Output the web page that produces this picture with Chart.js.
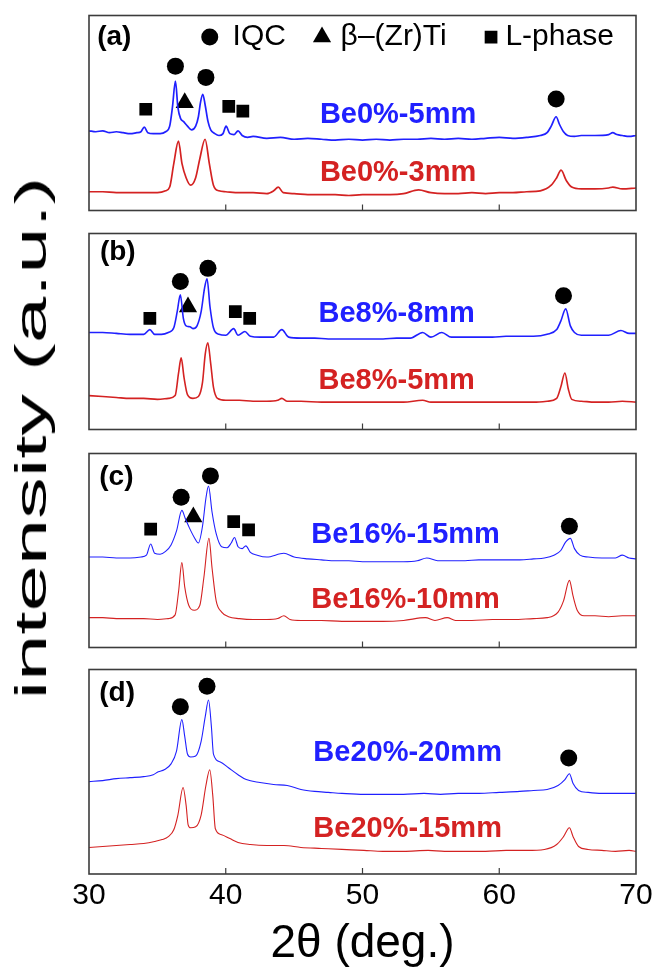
<!DOCTYPE html>
<html>
<head>
<meta charset="utf-8">
<script src="https://cdn.jsdelivr.net/npm/chart.js@4.4.1/dist/chart.umd.min.js"></script>
<style>
  body { margin: 0; background: #fff; }
  #figure { position: relative; width: 657px; height: 968px; overflow: hidden; }
  #figure canvas { position: absolute; left: 0; }
  #ylabel {
    position: absolute; left: 31px; top: 438px;
    font-family: "Liberation Sans", Arial, sans-serif; font-size: 45px; color: #000;
    white-space: nowrap;
    transform: translate(-50%, -50%) rotate(-90deg) scaleX(1.85);
  }
</style>
</head>
<body>
<div id="figure">
  <canvas id="panelA" width="657" height="216" style="top:5px"></canvas>
  <canvas id="panelB" width="657" height="217" style="top:223px"></canvas>
  <canvas id="panelC" width="657" height="215" style="top:443px"></canvas>
  <canvas id="panelD" width="657" height="307" style="top:661px"></canvas>
  <div id="ylabel">intensity (a.u.)</div>
</div>
<script>
// 2-theta range and tick values
const X_MIN = 30;
const X_MAX = 70;
const X_TICKS = [30, 40, 50, 60, 70];
const INNER_TICKS = [40, 50, 60];

// (a) Be0%
const aBlue = [
  [30, 85], [30.5, 84], [31, 85], [31.5, 83], [32, 84], [32.5, 83], [33, 82], [33.5, 83], [33.8, 84],
  [34.04, 89], [34.3, 83], [34.7, 82], [35.2, 82], [35.6, 84], [35.9, 90], [36.1, 110], [36.32, 138],
  [36.5, 110], [36.7, 98], [36.9, 95], [37.2, 90], [37.5, 86], [37.8, 90], [38.0, 100], [38.15, 115],
  [38.32, 124], [38.5, 112], [38.7, 95], [38.9, 86], [39.2, 82], [39.5, 80], [39.8, 82], [40.02, 90],
  [40.3, 82], [40.6, 81], [40.9, 85], [41.2, 80], [41.6, 78], [42, 79], [43, 77], [44, 78], [45, 76],
  [46, 77], [47, 76], [48, 75], [49, 76], [50, 75], [51, 76], [52, 75], [53, 76], [54, 76], [55, 77],
  [56, 76], [57, 77], [58, 76], [59, 77], [60, 78], [61, 77], [62, 78], [63, 80], [63.5, 83], [63.8, 90],
  [64.16, 100], [64.4, 92], [64.7, 84], [65, 80], [65.5, 79], [66, 80], [67, 80], [68, 81], [68.3, 83],
  [68.6, 81], [69, 80], [69.5, 79], [70, 80],
];
const aRed = [
  [30, 20], [31, 20], [32, 19], [33, 19], [34, 19], [35, 19], [35.6, 21], [35.9, 25], [36.2, 50],
  [36.54, 74], [36.8, 50], [37.1, 35], [37.43, 27], [37.8, 35], [38.1, 55], [38.49, 76], [38.8, 50],
  [39.1, 27], [39.5, 21], [40, 20], [41, 19], [42, 19], [43, 18], [43.5, 21], [43.84, 25], [44.2, 19],
  [45, 18], [46, 17], [47, 17], [48, 17], [49, 16], [50, 17], [51, 17], [52, 17], [53, 18], [54.1, 22],
  [55, 19], [56, 18], [57, 18], [58, 19], [59, 18], [60, 19], [61, 19], [62, 20], [63, 21], [63.8, 27],
  [64.2, 35], [64.52, 43], [64.9, 32], [65.3, 25], [66, 23], [67, 23], [68, 24], [68.3, 25], [69, 23],
  [70, 24],
];
const aCircles = [[36.32, 154], [38.55, 142], [64.16, 119], [38.83, 185]];
const aTriangles = [[37.0, 115], [47.04, 185]];
const aSquares = [[34.15, 108], [40.22, 111], [41.25, 106], [59.4, 185]];

// (b) Be8%
const bBlue = [
  [30, 103], [31, 103], [32, 102], [33, 101], [34, 101], [34.45, 106], [34.8, 101], [35.3, 101],
  [35.8, 103], [36.2, 108], [36.45, 125], [36.68, 143], [36.9, 118], [37.1, 110], [37.38, 109],
  [37.6, 107], [37.9, 110], [38.2, 125], [38.45, 150], [38.63, 160], [38.85, 130], [39.1, 108],
  [39.5, 101], [40, 100], [40.58, 107], [40.9, 100], [41.4, 104], [41.8, 99], [42.5, 98], [43.5, 98],
  [44.1, 106], [44.6, 98], [45.5, 97], [46.5, 97], [47.5, 96], [48.5, 96], [49.5, 96], [50.5, 96],
  [51.5, 96], [52.5, 97], [53.5, 97], [54.4, 103], [55, 98], [55.8, 103], [56.5, 98], [57.5, 98],
  [58.5, 98], [59.5, 98], [60.5, 99], [61.5, 99], [62.5, 99], [63.5, 101], [64.2, 106], [64.5, 115],
  [64.86, 128], [65.2, 110], [65.5, 103], [66, 100], [67, 100], [68, 100], [68.9, 105], [69.5, 102],
  [70, 102],
];
const bRed = [
  [30, 36], [31, 35], [32, 34], [33, 33], [34, 33], [35, 32], [35.8, 33], [36.3, 36], [36.55, 60],
  [36.74, 76], [36.95, 55], [37.2, 37], [37.6, 33], [38.0, 35], [38.3, 50], [38.5, 80], [38.69, 92],
  [38.9, 70], [39.1, 45], [39.4, 33], [40, 31], [41, 31], [42, 30], [43, 30], [43.8, 31], [44.1, 33],
  [44.5, 30], [45.5, 30], [47, 29], [48.5, 29], [50, 29], [51.5, 29], [53, 29], [54.4, 31], [55, 29],
  [56.5, 29], [58, 29], [59.5, 29], [61, 29], [62.5, 29], [63.5, 30], [64.2, 33], [64.5, 45],
  [64.8, 60], [65.05, 43], [65.3, 32], [66, 30], [67, 29], [68, 29], [69, 30], [70, 29],
];
const bCircles = [[36.68, 157], [38.7, 171], [64.7, 142]];
const bTriangles = [[37.24, 130]];
const bSquares = [[34.45, 118], [40.7, 125], [41.75, 118]];

// (c) Be16%
const cBlue = [
  [30, 97], [31, 97], [32, 96], [33, 96], [33.8, 97], [34.2, 99], [34.51, 111], [34.8, 101], [35.2, 100],
  [35.6, 103], [36.0, 110], [36.4, 125], [36.79, 147], [37.05, 138], [37.35, 128], [37.7, 118],
  [38.0, 112], [38.3, 130], [38.55, 160], [38.74, 173], [39.0, 145], [39.3, 122], [39.7, 108],
  [40.1, 107], [40.4, 112], [40.64, 118], [40.9, 108], [41.2, 106], [41.47, 109], [41.8, 102],
  [42.3, 99], [43, 97], [44.25, 101], [45, 97], [46, 95], [47, 94], [48, 93], [49, 93], [50, 92],
  [51, 92], [52, 92], [53, 92], [54, 93], [54.7, 96], [55.5, 93], [56.5, 93], [57.5, 93], [58.5, 94],
  [59.5, 94], [60.5, 94], [61.5, 94], [62.5, 95], [63.3, 96], [64, 99], [64.5, 104], [64.85, 113],
  [65.2, 117], [65.5, 106], [65.9, 99], [66.5, 97], [67.5, 96], [68.5, 96], [69.0, 99], [69.5, 96],
  [70, 95],
];
const cRed = [
  [30, 32], [31, 32], [32, 31], [33, 31], [34, 31], [35, 30], [35.8, 31], [36.3, 35], [36.55, 60],
  [36.79, 91], [37.0, 65], [37.3, 45], [37.7, 40], [38.1, 45], [38.4, 75], [38.77, 117], [39.0, 85],
  [39.3, 50], [39.7, 38], [40.2, 33], [41, 31], [42, 30], [43, 30], [43.8, 31], [44.25, 34], [44.7, 30],
  [45.5, 29], [47, 29], [48.5, 28], [50, 28], [51.5, 28], [53, 29], [54.6, 32], [55.3, 29], [56.2, 32],
  [56.8, 29], [58, 29], [59.5, 30], [61, 30], [62.5, 31], [63.5, 32], [64.3, 38], [64.7, 50],
  [65.13, 72], [65.4, 55], [65.7, 40], [66.2, 34], [67, 34], [68, 33], [69, 34], [70, 34],
];
const cCircles = [[36.74, 161], [38.88, 184], [65.13, 130]];
const cTriangles = [[37.63, 140]];
const cSquares = [[34.51, 127], [40.58, 135], [41.67, 126]];

// (d) Be20%
const dBlue = [
  [30, 94], [31, 95], [32, 97], [33, 98], [34, 99], [34.7, 101], [35.07, 104], [35.5, 106], [36.0, 112],
  [36.4, 125], [36.79, 157], [37.0, 140], [37.2, 122], [37.43, 119], [37.8, 120], [38.2, 135],
  [38.5, 160], [38.74, 177], [38.95, 150], [39.1, 122], [39.6, 114], [40.2, 108], [40.9, 101],
  [41.5, 96], [42.5, 93], [43.5, 91], [44.5, 90], [45.5, 86], [46.5, 84], [47.5, 83], [48.5, 82],
  [50.1, 81], [51.5, 81], [53, 81], [54.5, 82], [55.7, 81], [57, 82], [58.5, 82], [60, 83], [61.5, 84],
  [62.5, 85], [63.5, 86], [64.3, 90], [64.8, 96], [65.13, 102], [65.4, 92], [65.8, 85], [66.5, 83],
  [67.5, 82], [68.5, 82], [69.5, 82], [70, 82],
];
const dRed = [
  [30, 27], [31, 28], [32, 29], [33, 30], [34, 31], [34.8, 33], [35.35, 35], [35.8, 38], [36.2, 45],
  [36.5, 60], [36.88, 88], [37.1, 70], [37.25, 50], [37.43, 47], [37.8, 48], [38.2, 60], [38.55, 90],
  [38.83, 106], [39.05, 80], [39.24, 46], [39.7, 40], [40.3, 36], [40.9, 32], [41.8, 30], [43, 29],
  [44.25, 29], [45.5, 27], [47, 26], [48.5, 25], [50.1, 24], [51.5, 23], [53, 23], [54.8, 24], [56, 23],
  [57.5, 23], [59, 23], [60.5, 24], [62, 24], [63.3, 25], [64.2, 30], [64.7, 38], [65.13, 47],
  [65.4, 38], [65.8, 28], [66.5, 25], [67.5, 24], [68.5, 23], [69.5, 24], [70, 23],
];
const dCircles = [[36.68, 170], [38.63, 191], [65.08, 118]];

const FONT = '"Liberation Sans", Arial, sans-serif';
const BLUE = "#2020ff";
const RED = "#d42222";

const toXY = (pairs) => pairs.map(([x, y]) => ({ x, y }));

const frameAndTicks = {
  id: "frameAndTicks",
  afterDatasetsDraw(chart) {
    const { ctx, chartArea: a, scales } = chart;
    ctx.save();
    ctx.strokeStyle = "#3c3c3c";
    ctx.lineWidth = 1.6;
    ctx.strokeRect(a.left, a.top, a.right - a.left, a.bottom - a.top);
    ctx.lineWidth = 1.2;
    INNER_TICKS.forEach((v) => {
      const px = scales.x.getPixelForValue(v);
      ctx.beginPath();
      ctx.moveTo(px, a.bottom);
      ctx.lineTo(px, a.bottom - 6);
      ctx.stroke();
    });
    ctx.restore();
  },
};

const panelText = {
  id: "panelText",
  afterDraw(chart, args, opts) {
    const { ctx, scales } = chart;
    ctx.save();
    ctx.textBaseline = "middle";
    (opts.items || []).forEach((t) => {
      ctx.font = t.font;
      ctx.fillStyle = t.color || "#000";
      ctx.textAlign = t.align || "left";
      ctx.fillText(t.text, scales.x.getPixelForValue(t.x), scales.y.getPixelForValue(t.y));
    });
    ctx.restore();
  },
};

function markerSet(points, style, radius) {
  return {
    data: toXY(points),
    showLine: false,
    pointStyle: style,
    pointRadius: radius,
    pointHoverRadius: radius,
    pointBackgroundColor: "#000",
    pointBorderWidth: 0,
  };
}

function traceSet(points, color, width) {
  return {
    data: toXY(points),
    showLine: true,
    borderColor: color,
    borderWidth: width,
    pointRadius: 0,
    cubicInterpolationMode: "monotone",
  };
}

function makePanel(id, cfg) {
  const datasets = [
    traceSet(cfg.red, RED, cfg.lineWidth),
    traceSet(cfg.blue, BLUE, cfg.lineWidth),
    markerSet(cfg.circles, "circle", 8.5),
  ];
  if (cfg.triangles) datasets.push(markerSet(cfg.triangles, "triangle", 10.5));
  if (cfg.squares) datasets.push(markerSet(cfg.squares, "rect", 9));

  const xAxis = {
    type: "linear",
    min: X_MIN,
    max: X_MAX,
    display: !!cfg.bottom,
    border: { display: false },
    grid: { display: false, drawTicks: false },
    afterBuildTicks: (scale) => {
      scale.ticks = X_TICKS.map((v) => ({ value: v }));
    },
    ticks: {
      color: "#000",
      font: { family: FONT, size: 30 },
      padding: 4,
      maxRotation: 0,
      autoSkip: false,
    },
    title: {
      display: true,
      text: "2θ (deg.)",
      color: "#000",
      font: { family: FONT, size: 46 },
      padding: { top: 0, bottom: -4 },
    },
  };
  if (cfg.bottom) {
    xAxis.afterFit = (scale) => {
      scale.height = 94;
    };
  }

  return new Chart(document.getElementById(id), {
    type: "scatter",
    data: { datasets },
    options: {
      responsive: false,
      animation: false,
      events: [],
      layout: { padding: { left: 89, right: 21, top: 4, bottom: cfg.bottom ? 0 : 4 } },
      plugins: {
        legend: { display: false },
        tooltip: { enabled: false },
        panelText: { items: cfg.texts },
      },
      scales: {
        x: xAxis,
        y: { type: "linear", min: 0, max: 208, display: false },
      },
    },
    plugins: [frameAndTicks, panelText],
  });
}

const tagFont = "bold 28px " + FONT;
const sampleFont = "bold 29px " + FONT;
const legendFont = "30px " + FONT;

makePanel("panelA", {
  blue: aBlue, red: aRed, circles: aCircles, triangles: aTriangles, squares: aSquares,
  lineWidth: 1.7,
  texts: [
    { text: "(a)", x: 30.6, y: 185, font: tagFont },
    { text: "IQC", x: 40.5, y: 185, font: legendFont },
    { text: "β–(Zr)Ti", x: 48.4, y: 185, font: legendFont },
    { text: "L-phase", x: 60.45, y: 185, font: legendFont },
    { text: "Be0%-5mm", x: 52.6, y: 102, font: sampleFont, color: BLUE, align: "center" },
    { text: "Be0%-3mm", x: 52.6, y: 40, font: sampleFont, color: RED, align: "center" },
  ],
});

makePanel("panelB", {
  blue: bBlue, red: bRed, circles: bCircles, triangles: bTriangles, squares: bSquares,
  lineWidth: 1.6,
  texts: [
    { text: "(b)", x: 30.8, y: 188, font: tagFont },
    { text: "Be8%-8mm", x: 52.5, y: 123, font: sampleFont, color: BLUE, align: "center" },
    { text: "Be8%-5mm", x: 52.5, y: 52, font: sampleFont, color: RED, align: "center" },
  ],
});

makePanel("panelC", {
  blue: cBlue, red: cRed, circles: cCircles, triangles: cTriangles, squares: cSquares,
  lineWidth: 1.1,
  texts: [
    { text: "(c)", x: 30.75, y: 182, font: tagFont },
    { text: "Be16%-15mm", x: 53.15, y: 121, font: sampleFont, color: BLUE, align: "center" },
    { text: "Be16%-10mm", x: 53.15, y: 51, font: sampleFont, color: RED, align: "center" },
  ],
});

makePanel("panelD", {
  blue: dBlue, red: dRed, circles: dCircles,
  lineWidth: 1.1,
  bottom: true,
  texts: [
    { text: "(d)", x: 30.75, y: 184, font: tagFont },
    { text: "Be20%-20mm", x: 53.3, y: 123, font: sampleFont, color: BLUE, align: "center" },
    { text: "Be20%-15mm", x: 53.3, y: 46, font: sampleFont, color: RED, align: "center" },
  ],
});
</script>
</body>
</html>
